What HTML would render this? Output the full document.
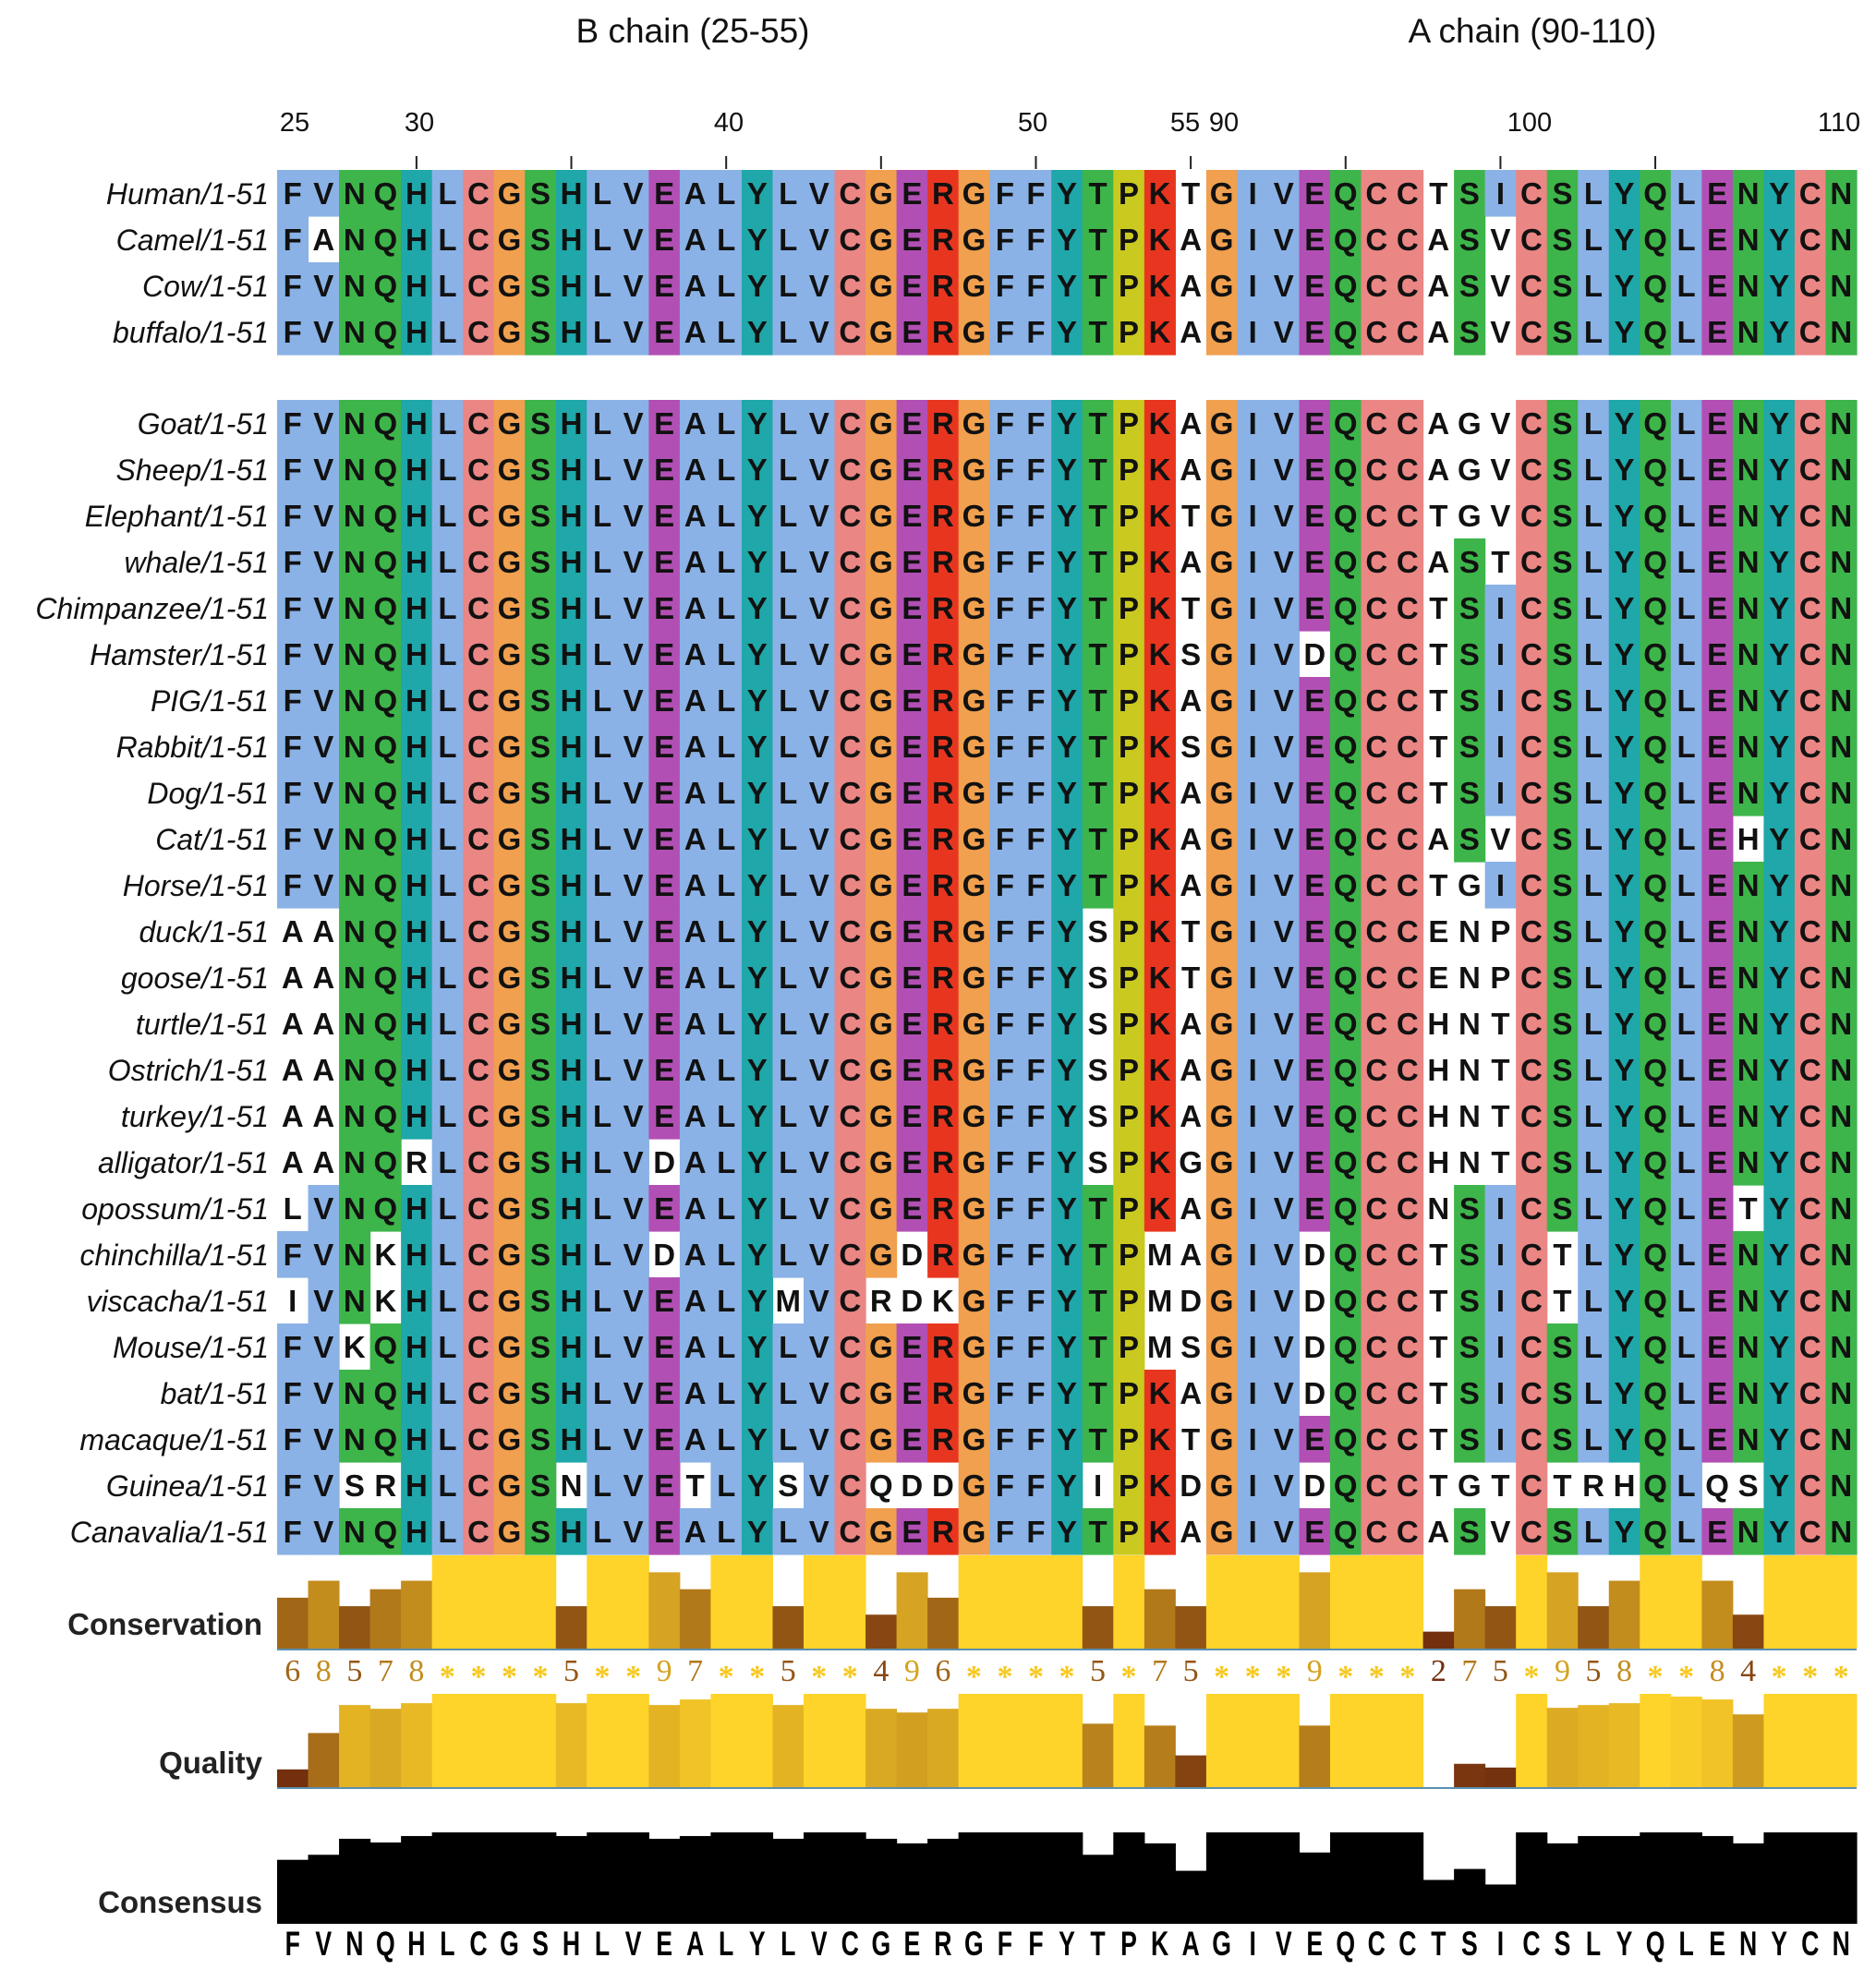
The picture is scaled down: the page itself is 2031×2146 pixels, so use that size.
<!DOCTYPE html>
<html><head><meta charset="utf-8">
<style>
html,body{margin:0;padding:0;background:#fff;}
svg{display:block;}
</style></head>
<body>
<svg id="chart" width="2031" height="2146" viewBox="0 0 2031 2146" xmlns="http://www.w3.org/2000/svg">
<text x="750" y="46" font-family="Liberation Sans, sans-serif" font-size="37" text-anchor="middle" fill="#111">B chain (25-55)</text>
<text x="1659" y="46" font-family="Liberation Sans, sans-serif" font-size="37" text-anchor="middle" fill="#111">A chain (90-110)</text>
<g id="ruler"></g>
<g id="rows"></g>
<g id="annot"></g>
</svg>
<script>
const names = ["Human/1-51","Camel/1-51","Cow/1-51","buffalo/1-51","Goat/1-51","Sheep/1-51","Elephant/1-51","whale/1-51","Chimpanzee/1-51","Hamster/1-51","PIG/1-51","Rabbit/1-51","Dog/1-51","Cat/1-51","Horse/1-51","duck/1-51","goose/1-51","turtle/1-51","Ostrich/1-51","turkey/1-51","alligator/1-51","opossum/1-51","chinchilla/1-51","viscacha/1-51","Mouse/1-51","bat/1-51","macaque/1-51","Guinea/1-51","Canavalia/1-51"];
const seqs = [
"FVNQHLCGSHLVEALYLVCGERGFFYTPKTGIVEQCCTSICSLYQLENYCN",
"FANQHLCGSHLVEALYLVCGERGFFYTPKAGIVEQCCASVCSLYQLENYCN",
"FVNQHLCGSHLVEALYLVCGERGFFYTPKAGIVEQCCASVCSLYQLENYCN",
"FVNQHLCGSHLVEALYLVCGERGFFYTPKAGIVEQCCASVCSLYQLENYCN",
"FVNQHLCGSHLVEALYLVCGERGFFYTPKAGIVEQCCAGVCSLYQLENYCN",
"FVNQHLCGSHLVEALYLVCGERGFFYTPKAGIVEQCCAGVCSLYQLENYCN",
"FVNQHLCGSHLVEALYLVCGERGFFYTPKTGIVEQCCTGVCSLYQLENYCN",
"FVNQHLCGSHLVEALYLVCGERGFFYTPKAGIVEQCCASTCSLYQLENYCN",
"FVNQHLCGSHLVEALYLVCGERGFFYTPKTGIVEQCCTSICSLYQLENYCN",
"FVNQHLCGSHLVEALYLVCGERGFFYTPKSGIVDQCCTSICSLYQLENYCN",
"FVNQHLCGSHLVEALYLVCGERGFFYTPKAGIVEQCCTSICSLYQLENYCN",
"FVNQHLCGSHLVEALYLVCGERGFFYTPKSGIVEQCCTSICSLYQLENYCN",
"FVNQHLCGSHLVEALYLVCGERGFFYTPKAGIVEQCCTSICSLYQLENYCN",
"FVNQHLCGSHLVEALYLVCGERGFFYTPKAGIVEQCCASVCSLYQLEHYCN",
"FVNQHLCGSHLVEALYLVCGERGFFYTPKAGIVEQCCTGICSLYQLENYCN",
"AANQHLCGSHLVEALYLVCGERGFFYSPKTGIVEQCCENPCSLYQLENYCN",
"AANQHLCGSHLVEALYLVCGERGFFYSPKTGIVEQCCENPCSLYQLENYCN",
"AANQHLCGSHLVEALYLVCGERGFFYSPKAGIVEQCCHNTCSLYQLENYCN",
"AANQHLCGSHLVEALYLVCGERGFFYSPKAGIVEQCCHNTCSLYQLENYCN",
"AANQHLCGSHLVEALYLVCGERGFFYSPKAGIVEQCCHNTCSLYQLENYCN",
"AANQRLCGSHLVDALYLVCGERGFFYSPKGGIVEQCCHNTCSLYQLENYCN",
"LVNQHLCGSHLVEALYLVCGERGFFYTPKAGIVEQCCNSICSLYQLETYCN",
"FVNKHLCGSHLVDALYLVCGDRGFFYTPMAGIVDQCCTSICTLYQLENYCN",
"IVNKHLCGSHLVEALYMVCRDKGFFYTPMDGIVDQCCTSICTLYQLENYCN",
"FVKQHLCGSHLVEALYLVCGERGFFYTPMSGIVDQCCTSICSLYQLENYCN",
"FVNQHLCGSHLVEALYLVCGERGFFYTPKAGIVDQCCTSICSLYQLENYCN",
"FVNQHLCGSHLVEALYLVCGERGFFYTPKTGIVEQCCTSICSLYQLENYCN",
"FVSRHLCGSNLVETLYSVCQDDGFFYIPKDGIVDQCCTGTCTRHQLQSYCN",
"FVNQHLCGSHLVEALYLVCGERGFFYTPKAGIVEQCCASVCSLYQLENYCN"];
const consensusSeq = "FVNQHLCGSHLVEALYLVCGERGFFYTPKAGIVEQCCTSICSLYQLENYCN";
const conservation = [6,8,5,7,8,11,11,11,11,5,11,11,9,7,11,11,5,11,11,4,9,6,11,11,11,11,5,11,7,5,11,11,11,9,11,11,11,2,7,5,11,9,5,8,11,11,8,4,11,11,11];
const quality = [0.19,0.58,0.88,0.84,0.90,1,1,1,1,0.90,1,1,0.88,0.94,1,1,0.88,1,1,0.84,0.80,0.84,1,1,1,1,0.68,1,0.66,0.34,1,1,1,0.66,1,1,1,0,0.25,0.21,1,0.85,0.88,0.90,1,0.97,0.94,0.78,1,1,1];
const consensusPct = [0.70,0.755,0.93,0.89,0.96,1,1,1,1,0.96,1,1,0.93,0.96,1,1,0.93,1,1,0.93,0.88,0.93,1,1,1,1,0.755,1,0.88,0.58,1,1,1,0.78,1,1,1,0.48,0.60,0.43,1,0.88,0.96,0.96,1,1,0.96,0.88,1,1,1];
const rulerLabels = ["25","30","40","50","55","90","100","110"];
const rulerLabelX = [319,454,789,1118,1283,1325,1656,1991];
const tickCols = [4,9,14,19,24,29,34,39,44];
const whiteCols = [29,37];

const NS="http://www.w3.org/2000/svg";
const X0=300, X1=2010, NC=51, CW=(X1-X0)/NC, RH=50;
const colX = i => X0 + i*CW;
const resColor = {F:"#8ab2e6",V:"#8ab2e6",L:"#8ab2e6",I:"#8ab2e6",A:"#8ab2e6",M:"#8ab2e6",W:"#8ab2e6",
 N:"#3db54a",Q:"#3db54a",S:"#3db54a",T:"#3db54a",H:"#1fa7a9",Y:"#1fa7a9",C:"#ea8684",G:"#f0a04e",
 E:"#b24fb4",D:"#b24fb4",R:"#e8351f",K:"#e8351f",P:"#c9c91f"};
function mk(tag, attrs, parent){const e=document.createElementNS(NS,tag);for(const k in attrs)e.setAttribute(k,attrs[k]);parent.appendChild(e);return e;}
function grad(t){t=Math.max(0,Math.min(1,t));const s=Math.pow(t,1.6);
 const a=[105,35,12], b=[255,212,42];return `rgb(${a.map((v,i)=>Math.round(v+(b[i]-v)*s)).join(",")})`;}

const ruler=document.getElementById("ruler");
rulerLabels.forEach((l,i)=>{
 const t=mk("text",{x:rulerLabelX[i],y:142,"font-family":"Liberation Sans, sans-serif","font-size":"29","text-anchor":"middle",fill:"#111"},ruler);
 
 
 t.textContent=l;
});
tickCols.forEach(c=>{
 const ln=mk("line",{x1:colX(c)+CW/2,x2:colX(c)+CW/2,y1:169,y2:183,stroke:"#222","stroke-width":2},ruler);
 
 
});

const rows=document.getElementById("rows");
names.forEach((nm,r)=>{
 const top = r<4 ? 184 + r*RH : 433 + (r-4)*RH;
 const g=mk("g",{},rows);
 
 
 const lab=mk("text",{x:291,y:top+37,"font-family":"Liberation Sans, sans-serif","font-size":"32","font-style":"italic","text-anchor":"end",fill:"#111"},g);
 
 
 lab.textContent=nm;
 const s=seqs[r];
 for(let c=0;c<NC;c++){
  const ch=s[c], ref=seqs[0][c];
  if(ch===ref && whiteCols.indexOf(c)<0){
   const rc=mk("rect",{x:colX(c),y:top,width:CW+0.6,height:RH+0.6,fill:resColor[ref]||"#fff"},g);
   
   
  }
  const t=mk("text",{x:colX(c)+CW/2,y:top+37,"font-family":"Liberation Sans, sans-serif","font-size":"33","font-weight":"bold","text-anchor":"middle",fill:"#111"},g);
  
  
  t.textContent=ch;
 }
});

const an=document.getElementById("annot");
const labs=[["Conservation",1770],["Quality",1920],["Consensus",2071]];
labs.forEach(([l,y])=>{
 const t=mk("text",{x:284,y:y,"font-family":"Liberation Sans, sans-serif","font-size":"33","font-weight":"bold","text-anchor":"end",fill:"#222"},an);
 
 
 t.textContent=l;
});
const cB=1785, cH=101;
conservation.forEach((v,i)=>{
 const h=v/11*cH;
 const b=mk("rect",{x:colX(i),y:cB-h,width:CW+0.5,height:h,fill:grad(v/11)},an);
 
 
 const star=v>=11;
 const t=mk("text",{x:colX(i)+CW/2,y:star?1826:1820,"font-family":"Liberation Serif, serif","font-size":star?"34":"34","font-weight":star?"bold":"normal","text-anchor":"middle",fill:star?"#f7c81c":grad(v/11)},an);
 
 
 t.textContent=star?"*":String(v);
});
mk("line",{x1:X0,x2:X1,y1:cB+1,y2:cB+1,stroke:"#5a8fb0","stroke-width":2},an);
const qB=1935, qH=101;
quality.forEach((v,i)=>{
 const h=v*qH;
 const b=mk("rect",{x:colX(i),y:qB-h,width:CW+0.5,height:h,fill:grad(v)},an);
 
 
});
mk("line",{x1:X0,x2:X1,y1:qB+1,y2:qB+1,stroke:"#5a8fb0","stroke-width":2},an);
const sB=2083, sH=99;
consensusPct.forEach((v,i)=>{
 const h=v*sH;
 const b=mk("rect",{x:colX(i),y:sB-h,width:CW+0.6,height:h,fill:"#000"},an);
 
 
 const t=mk("text",{x:colX(i)+CW/2,y:2117,"font-family":"Liberation Sans, sans-serif","font-size":"37","font-weight":"bold","text-anchor":"middle",fill:"#000",transform:`translate(${colX(i)+CW/2},0) scale(0.72,1) translate(${-(colX(i)+CW/2)},0)`},an);
 
 
 t.textContent=consensusSeq[i];
});
</script>
</body></html>
